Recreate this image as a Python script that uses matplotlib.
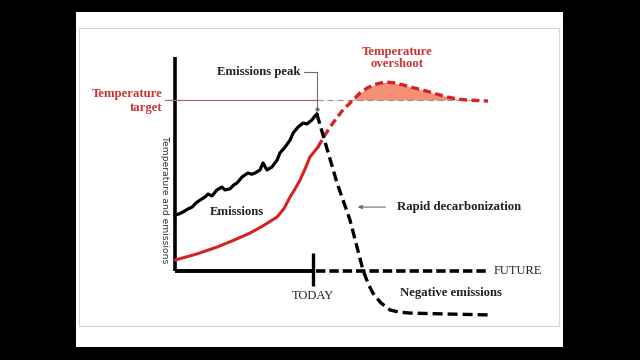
#!/usr/bin/env python3
"""Schematic: emissions peak, rapid decarbonization and temperature overshoot."""

import matplotlib

matplotlib.use("Agg")
import matplotlib.pyplot as plt
from matplotlib.patches import Rectangle
import numpy as np

# time: 0 = start of record, 50 = today; level: 0 = baseline, 100 = temperature target
TODAY = 50
FUTURE_END = 113.4
TARGET = 100

emis_x = [0, 1.5, 2.9, 4.6, 6.2, 7.6, 9.1, 10.9, 12.0, 13.4, 15.2, 17.0, 18.1, 19.9,
          21.2, 22.5, 24.3, 26.4, 27.8, 29.0, 30.8, 31.9, 33.3, 35.1, 37.0, 38.0,
          39.9, 41.7, 42.8, 44.6, 46.4, 47.8, 49.6, 50.4, 51.4]
emis_y = [32.7, 33.4, 34.5, 36.2, 37.4, 39.8, 41.5, 43.3, 45.0, 43.9, 47.4, 49.1, 47.4,
          48.0, 50.2, 51.5, 55.0, 57.3, 56.6, 57.3, 59.1, 63.2, 59.1, 60.8, 64.9, 69.0,
          72.5, 76.6, 80.7, 84.2, 86.5, 86.0, 88.3, 90.1, 91.8]

decarb_x = [51.4, 58.7, 63.4, 68.1, 70.0, 71.7, 74.5, 77.9, 81.0, 85.1, 100.0, 114.1]
decarb_y = [91.8, 51.5, 29.8, 0.6, -7.5, -12.9, -18.5, -22.8, -24.0, -24.6, -25.2, -25.7]

temp_x = [0, 8, 15.2, 21, 27.2, 32, 37.0, 39.5, 41.7, 43.5, 45.3, 47.2, 48.9, 51.8]
temp_y = [6.4, 10.0, 14.0, 17.8, 22.2, 26.5, 31.6, 36.5, 43.3, 48.0, 53.2, 60.0, 66.7, 72.5]

over_x = [51.8, 54.5, 57.2, 60.5, 64.1, 67.0, 69.6, 72.8, 76.1, 79.5, 82.6, 86.0,
          89.9, 94.0, 98.6, 102.0, 105.8, 113.4]
over_y = [72.5, 80.0, 86.5, 93.5, 99.4, 104.0, 107.0, 109.3, 110.5, 110.0, 108.8, 107.3,
          105.8, 103.8, 101.8, 100.7, 100.0, 99.4]

SERIF = "Liberation Serif"
RED = "#d42323"
RED_TXT = "#c93434"
GREY = "#6e6e6e"
INK = "#222222"

fig = plt.figure(figsize=(6.4, 3.6), dpi=100, facecolor="black")

# letterboxed white panel
bg = fig.add_axes([0, 0, 1, 1])
bg.set_xlim(0, 640)
bg.set_ylim(360, 0)
bg.axis("off")
bg.add_patch(Rectangle((76, 12), 487, 335, facecolor="white", edgecolor="none"))
bg.add_patch(Rectangle((79, 28), 480, 298, facecolor="none", edgecolor="#d6d6d6", lw=0.8))

ax = fig.add_axes([0, 0, 1, 1])
ax.patch.set_alpha(0)
ax.axis("off")
ax.set_xlim(-175 / 2.76, 465 / 2.76)
ax.set_ylim(-89 / 1.71, 271 / 1.71)

# axes frame
ax.plot([0, 0], [0, 125], color="black", lw=2.6, solid_capstyle="butt")
ax.plot([0, TODAY], [0, 0], color="black", lw=2.8, solid_capstyle="butt")
ax.plot([TODAY, TODAY], [-8.8, 10.5], color="black", lw=2.4, solid_capstyle="butt")
ax.plot([TODAY + 1, FUTURE_END], [0, 0], color="black", lw=2.6, dashes=(2.6, 1.1))

# temperature target
ax.plot([-3.6, emis_x[-1]], [TARGET, TARGET], color="#a86a6a", lw=0.9)
ax.plot([emis_x[-1], 107], [TARGET, TARGET], color="#9a9a9a", lw=0.9, dashes=(5, 3))

# overshoot fill
ox = np.array(over_x)
oy = np.array(over_y)
ax.fill_between(ox, TARGET, oy, where=oy >= TARGET, interpolate=True,
                color="#f48f78", lw=0)

# temperature
ax.plot(temp_x, temp_y, color=RED, lw=2.2, solid_capstyle="round")
ax.plot(over_x, over_y, color=RED, lw=2.4, dashes=(2.4, 1.3))

# emissions
ax.plot(emis_x, emis_y, color="black", lw=2.3, solid_joinstyle="round")
ax.plot(decarb_x, decarb_y, color="black", lw=2.4, dashes=(3.0, 1.5))

# annotations
ax.text(45.3, 116.4, "Emissions peak", family=SERIF, weight="bold", fontsize=9.2,
        ha="right", va="center", color=INK)
ax.plot([46.7, emis_x[-1], emis_x[-1]], [116.4, 116.4, 95], color=GREY, lw=0.8)
ax.plot([emis_x[-1]], [95], "o", color=GREY, ms=2)

ax.text(-4.5, 99.5, "Temperature\ntarget", family=SERIF, weight="bold", fontsize=9.2,
        ha="right", va="center", color=RED_TXT, linespacing=1.15)
ax.text(80.5, 124.5, "Temperature\novershoot", family=SERIF, weight="bold", fontsize=9.2,
        ha="center", va="center", color=RED_TXT, linespacing=1.0)
ax.text(22.5, 34.5, "Emissions", family=SERIF, weight="bold", fontsize=9.2,
        ha="center", va="center", color=INK)

ax.annotate("", xy=(65.2, 37.4), xytext=(77.2, 37.4),
            arrowprops=dict(arrowstyle="-|>", color=GREY, lw=0.8, mutation_scale=6))
ax.text(80.4, 37.4, "Rapid decarbonization", family=SERIF, weight="bold", fontsize=9.2,
        ha="left", va="center", color=INK)
ax.text(115.5, 0, "FUTURE", family=SERIF, fontsize=9, ha="left", va="center", color=INK)
ax.text(TODAY, -14.5, "TODAY", family=SERIF, fontsize=9, ha="center", va="center",
        color=INK)
ax.text(81.5, -13, "Negative emissions", family=SERIF, weight="bold", fontsize=9.2,
        ha="left", va="center", color=INK)
ax.text(-3.8, 41.5, "Temperature and emissions", family="DejaVu Sans", fontsize=6.6,
        rotation=-90, ha="center", va="center", color="#333333")

fig.savefig("out.png", dpi=100, facecolor="black")
